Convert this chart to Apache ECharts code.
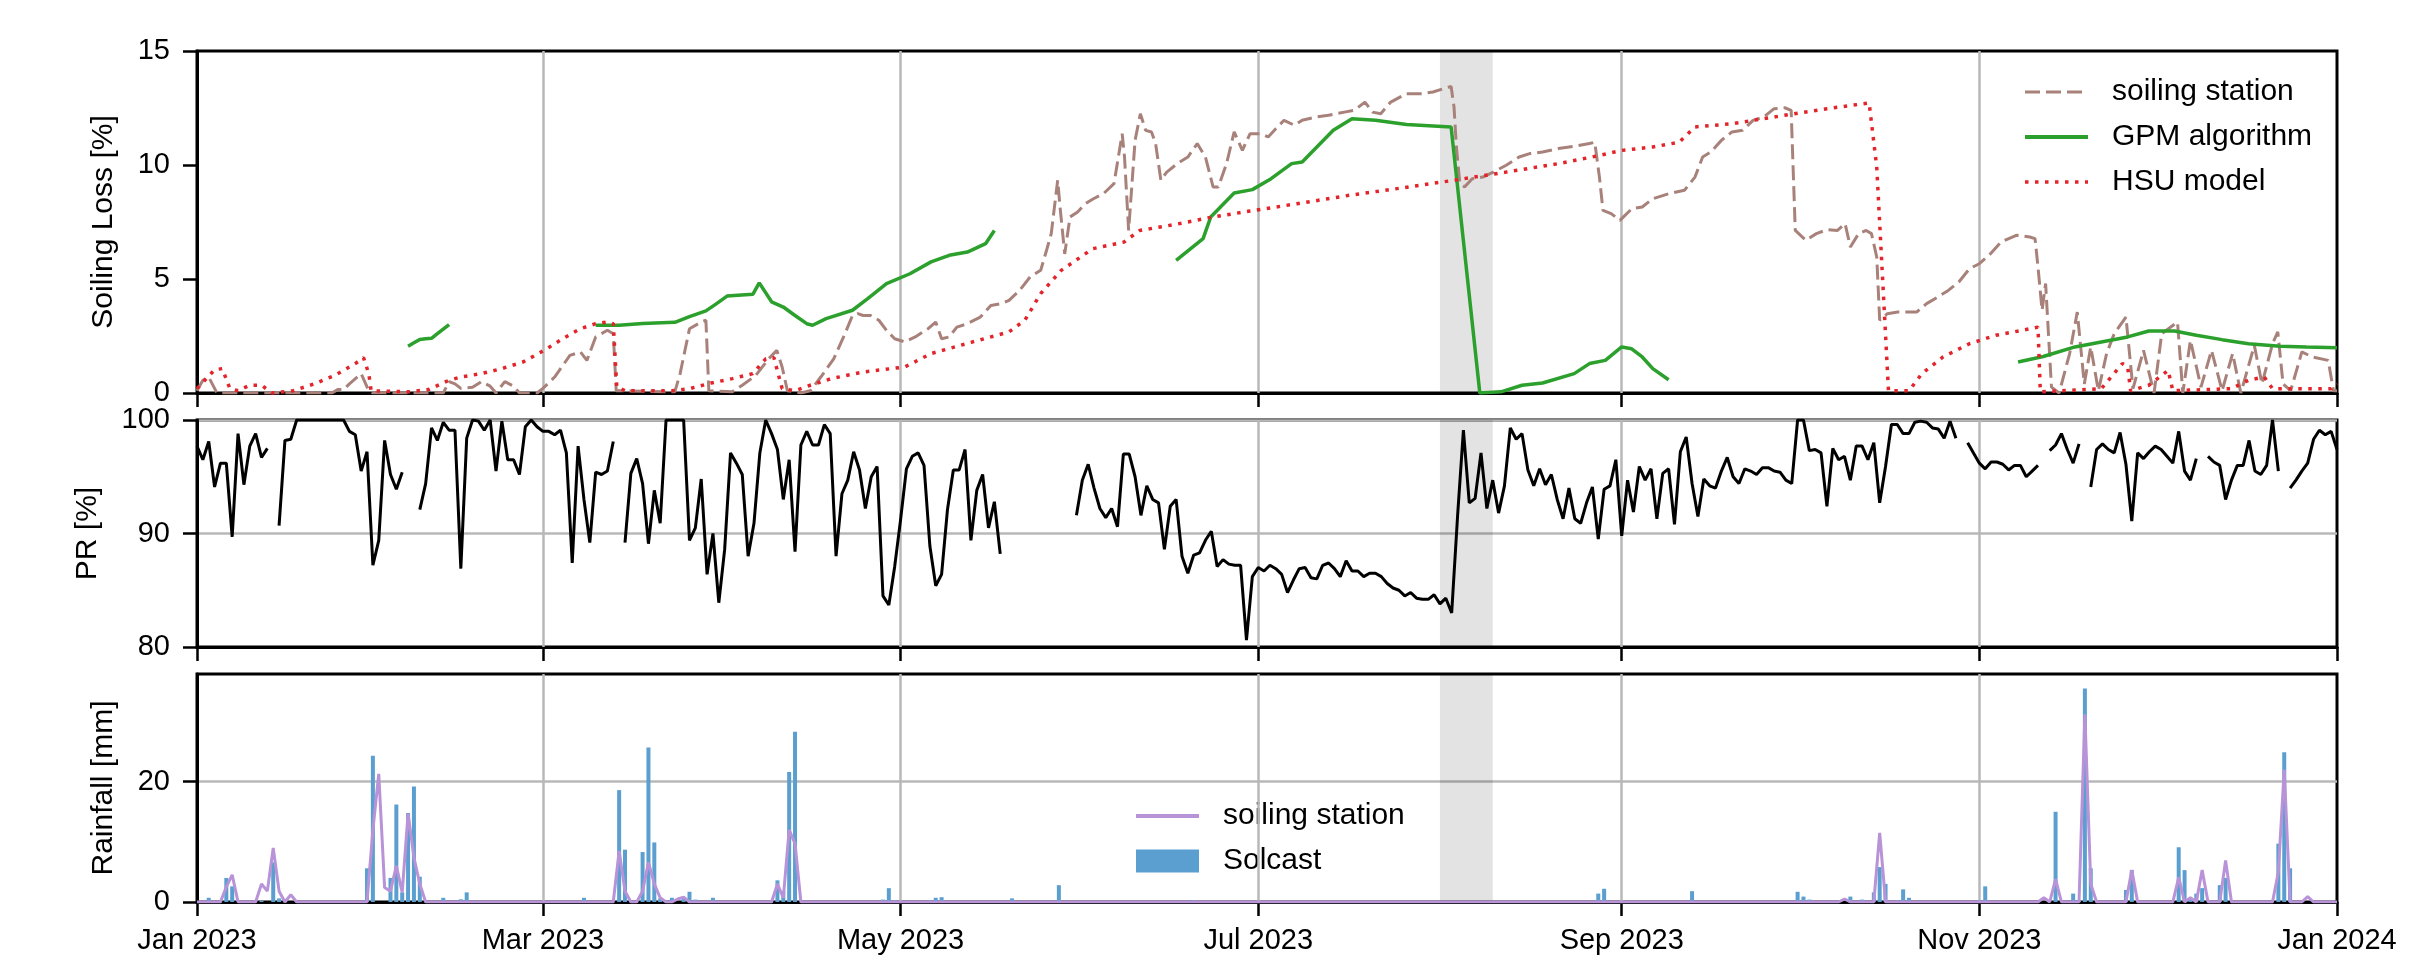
<!DOCTYPE html>
<html>
<head>
<meta charset="utf-8">
<script src="https://cdn.jsdelivr.net/npm/echarts@6/dist/echarts.min.js"></script>
<style>
html,body{margin:0;padding:0;background:#fff;}
#chart{width:2427px;height:956px;}
</style>
</head>
<body>
<div id="chart"></div>
<script>
// ---------- tick labels / dates ----------
const tickDates  = ['2023-01-01','2023-03-01','2023-05-01','2023-07-01','2023-09-01','2023-11-01','2024-01-01'];
const tickLabels = ['Jan 2023','Mar 2023','May 2023','Jul 2023','Sep 2023','Nov 2023','Jan 2024'];
const bandDates  = ['2023-08-01','2023-08-10'];
const lossTicks  = [0, 5, 10, 15];
const prTicks    = [80, 90, 100];
const rainTicks  = [0, 20];

// ---------- panel 1: soiling loss [%]  (x = day of 2023, 0 = 1 Jan) ----------
const stationLoss = [
 [0,0.1],[1,0.56],[2,0.7],[3.4,0],[14,0],[23,0],[24,0.15],[25,0.15],[26,0.4],[28,0.85],
 [29.3,0.1],[30,0],[42,0],[43,0.5],[44,0.4],[45,0.2],[47,0.25],[48.5,0.5],[50,0.3],[51,0],
 [52.5,0.5],[54,0.3],[55,0],[58,0],[59,0.2],[61,0.7],[63.6,1.65],[65.4,1.8],[66.5,1.43],[68,2.46],
 [70,2.75],[71,2.6],[71.5,0.1],[81.5,0.05],[82.4,0.85],[84,2.82],[86,3.11],[86.8,3.19],[87.3,0.1],[91.3,0.05],
 [93,0.34],[95.3,0.77],[97.5,1.5],[98.9,1.87],[99.8,1.14],[100.7,0.1],[103,0],[104.6,0.1],[106.4,0.7],[108.6,1.5],
 [110.4,2.53],[111.8,3.4],[112.7,3.48],[113.6,3.4],[114.9,3.4],[116.3,3.19],[117.6,2.75],[119,2.38],[120.7,2.24],[122.5,2.46],
 [124.7,2.82],[126,3.11],[127,2.38],[128.3,2.46],[129.6,2.89],[131.4,3.04],[133.6,3.33],[135.4,3.84],[137.2,3.92],[138.5,4.06],
 [140.3,4.5],[142.1,5.09],[143.9,5.38],[144.9,6.26],[145.7,6.99],[146.8,9.33],[147.2,8.16],[148,6.1],[148.9,7.72],[150.2,7.94],
 [151.5,8.3],[152.9,8.52],[154.6,8.74],[156.4,9.18],[157.8,11.37],[158.2,10.35],[158.9,7.13],[160,11.08],[160.9,12.25],[161.8,11.52],
 [162.8,11.45],[163.5,10.94],[164.4,9.33],[165.4,9.69],[167.2,10.06],[169,10.35],[170.6,10.94],[172,10.35],[173.3,9.04],[174.2,9.04],
 [175.6,10.06],[176.9,11.45],[178.3,10.64],[179.6,11.37],[181.4,11.37],[182.7,11.23],[184,11.59],[185.4,11.96],[187.2,11.74],[188.5,11.96],
 [190.7,12.1],[193,12.18],[195.7,12.32],[197.4,12.4],[199.2,12.76],[200.5,12.32],[201.9,12.25],[203.6,12.76],[206.3,13.13],[209,13.13],
 [210.8,13.2],[212.6,13.35],[213.9,13.45],[214.4,12.54],[214.8,10.79],[215.4,9.18],[216.2,9.04],[217.5,9.4],[219.3,9.47],[221.1,9.69],
 [223.3,9.99],[225.5,10.35],[227.3,10.5],[229.5,10.57],[232.2,10.72],[234.9,10.82],[237.5,10.94],[238.4,11.0],[239.2,9.47],[239.8,8.01],
 [241.2,7.87],[242.7,7.57],[244.7,8.08],[246.5,8.16],[248.3,8.52],[251,8.74],[253.7,8.89],[255.5,9.47],[256.8,10.35],[258.2,10.57],
 [260,11.08],[261.8,11.45],[263.6,11.52],[265.4,11.96],[267.2,12.1],[269,12.47],[270.8,12.51],[271.9,12.4],[272.6,7.13],[274.4,6.7],
 [276.2,6.99],[278,7.16],[279.8,7.13],[281.1,7.43],[282,6.4],[283.4,6.99],[284.7,7.13],[285.6,6.99],[286.5,5.96],[287,3.19],
 [288.3,3.48],[290.1,3.55],[293.3,3.55],[295,3.92],[296.9,4.21],[298.7,4.5],[300.5,4.87],[302.3,5.45],[304,5.67],[305.9,6.11],
 [307.7,6.62],[310.4,6.92],[312.6,6.84],[313.5,6.77],[314,5.53],[314.7,3.63],[315.3,4.8],[316.3,0.26],[317.6,0],[319.4,1.73],
 [320.7,3.55],[321.9,0.4],[323,2.02],[324.3,0.1],[325.7,1.73],[327,2.6],[329,3.33],[330.2,0.19],[332,1.87],[333.8,0],
 [335.1,2.6],[337.8,3.11],[338.7,0],[340,2.31],[341.8,0.26],[343.6,1.87],[345.4,0.1],[347.2,1.73],[348.6,0],[350.9,2.09],
 [352.2,0.4],[354,2.16],[354.9,2.68],[355.8,0.4],[357.1,0.1],[359,1.8],[360.8,1.58],[363.5,1.43],[364.4,0.1],[365,0.1]
];

const gpmDays = [36,37,38,39,40,41,42,43,44,
  68,72,76,81.5,84,86.8,88.5,90.4,94.8,95.9,98,100,102,104,105,107.3,111.8,114.4,117.6,121.6,125.2,128.3,131.4,134.5,136,137,
  167,171.6,172.9,176.9,180,183.2,186.7,188.5,193.8,197,201,206.3,213.9,
  218.8,222.4,226,229.5,234.9,237.5,240.2,243,244.7,246.5,248.3,251,252,
  310.6,314.9,320.3,324.8,329.3,332.9,337.3,341,345.4,349.9,355.3,359.8,365];
const gpmLoss = [2.05,2.2,2.35,2.38,2.4,2.6,2.8,3.0,null,
  2.97,2.97,3.05,3.1,3.35,3.6,3.9,4.25,4.33,4.83,4.0,3.77,3.4,3.04,2.97,3.26,3.63,4.14,4.8,5.23,5.75,6.04,6.18,6.55,7.13,null,
  5.82,6.77,7.72,8.77,8.92,9.4,10.06,10.13,11.52,12.03,11.96,11.78,11.67,
  0,0.05,0.34,0.44,0.85,1.29,1.43,2.02,1.94,1.58,1.07,0.58,null,
  1.36,1.6,2.02,2.24,2.46,2.72,2.72,2.53,2.34,2.16,2.05,2.02,1.99];

const hsuDays = [0,3,4.3,5.6,7,9,11,12.8,16.4,20,
  23.5,27,28.4,29.3,29.7,36,39.5,43,45,48.5,
  52,55.6,59.2,62.7,65.4,68,69.9,71,71.6,73,
  81,84,87.7,91.3,94.8,97,98.4,99.8,102,104.6,
  108.2,113.6,120.7,125.2,132.3,138.5,141.2,143.9,147.4,152.8,
  158.1,160.8,167,173.3,179.6,187.6,196.5,205.4,214.4,223.3,
  232.2,238.5,243,248.3,252.8,255.5,261.8,270.8,278,285.2,
  286.5,288.5,292,294.2,297.8,302.3,306.8,311.3,314,314.4,
  324.8,328.4,329.3,329.8,332.9,336.2,337,347,349.9,352.6,
  354,364,365];
const hsuLoss = [0.19,1.02,1.07,0.2,0.1,0.34,0.34,0,0.1,0.4,
  0.77,1.29,1.55,0.85,0.1,0.05,0.15,0.56,0.7,0.85,
  1.07,1.36,1.87,2.43,2.82,3.04,3.11,3.04,0.26,0.1,
  0.1,0.19,0.44,0.63,0.85,1.5,1.55,0.19,0.1,0.34,
  0.63,0.92,1.14,1.73,2.24,2.68,3.19,4.36,5.38,6.33,
  6.62,7.13,7.4,7.72,7.98,8.3,8.67,8.99,9.33,9.69,
  10.06,10.38,10.64,10.79,11.0,11.67,11.81,12.18,12.47,12.72,
  9.9,0.1,0.1,0.85,1.58,2.16,2.53,2.75,2.89,0.05,
  0.19,1.29,1.14,0.1,0.34,0.99,0.1,0.19,0.56,0.7,
  0.19,0.19,0.4];

// ---------- panel 2: daily PR [%] from 2023-01-01 (null = no data) ----------
const prDaily = [
 97.7,96.5,98.1,94.1,96.2,96.2,89.7,98.8,94.3,97.7,
 98.8,96.7,97.5,null,90.7,98.2,98.3,100,100,100,
 100,100,100,100,100,100,99.0,98.7,95.5,97.2,
 87.2,89.4,98.2,95.2,93.9,95.4,null,null,92.1,94.4,
 99.3,98.2,99.8,99.1,99.1,86.9,98.4,100,99.9,99.1,
 100,95.5,99.9,96.5,96.5,95.2,99.4,100,99.4,99.0,
 99.0,98.7,99.1,97.1,87.4,97.7,93.0,89.2,95.4,95.2,
 95.5,98.1,null,89.2,95.3,96.6,94.4,89.1,93.8,90.9,
 100,100,100,100,89.4,90.5,94.8,86.4,90.0,83.9,
 88.6,97.1,96.2,95.2,88.0,90.9,97.1,100,98.8,97.4,
 93.0,96.5,88.4,97.8,99.0,97.8,97.8,99.6,98.8,88.0,
 93.5,94.7,97.2,95.6,92.2,95.0,95.9,84.5,83.7,87.1,
 91.2,95.7,96.8,97.1,96.0,88.9,85.4,86.4,92.1,95.6,
 95.6,97.4,89.4,93.8,95.2,90.5,92.8,88.2,null,null,
 null,null,null,null,null,null,null,null,null,null,
 91.6,94.7,96.1,94.0,92.2,91.4,92.2,90.6,97.0,97.0,
 95.0,91.6,94.2,93.0,92.7,88.6,92.4,93.0,88.0,86.5,
 88.1,88.3,89.4,90.2,87.1,87.7,87.3,87.2,87.2,80.6,
 86.2,87.0,86.7,87.2,86.9,86.4,84.8,85.9,86.9,87.0,
 86.1,86.0,87.2,87.4,86.9,86.2,87.6,86.7,86.7,86.2,
 86.5,86.5,86.2,85.6,85.2,85.0,84.5,84.8,84.3,84.2,
 84.2,84.6,83.8,84.3,83.0,91.5,99.1,92.7,93.1,97.1,
 92.2,94.7,91.8,94.2,99.3,98.3,98.8,95.6,94.2,95.7,
 94.3,95.2,93.0,91.3,94.0,91.3,90.9,92.7,94.1,89.5,
 93.9,94.2,96.5,89.8,94.7,91.9,95.9,94.7,95.7,91.3,
 95.3,95.7,90.8,97.2,98.5,94.4,91.5,94.8,94.2,94.0,
 95.5,96.7,95.0,94.4,95.7,95.5,95.2,95.8,95.8,95.5,
 95.4,94.7,94.4,100,100,97.3,97.4,97.1,92.4,97.5,
 96.5,96.8,94.7,97.7,97.7,96.5,98.0,92.7,95.9,99.6,
 99.6,98.8,98.8,99.8,99.9,99.8,99.3,99.2,98.4,99.9,
 98.4,null,98.0,97.1,96.2,95.7,96.3,96.3,96.1,95.6,
 96.0,96.0,95.0,95.5,96.0,null,97.3,97.8,98.8,97.4,
 96.2,97.9,null,94.1,97.4,97.9,97.4,97.1,98.9,96.1,
 91.1,97.1,96.6,97.2,97.7,97.4,96.8,96.2,99.0,95.5,
 94.7,96.6,null,96.8,96.3,96.0,93.0,94.7,96.0,96.0,
 98.2,95.5,95.2,96.0,100,95.5,null,94.0,94.7,95.5,
 96.2,98.3,99.1,98.7,99.0,97.4
];

// ---------- panel 3: rainfall [mm] ----------
const solcastDays = [2,5,6,11,13,14,29,30,33,34,35,36,37,38,42,45,46,66,72,73,76,77,78,79,81,83,84,85,88,
  99,100,101,102,117,118,119,125,126,127,139,146,147,148,170,239,240,255,273,274,275,282,284,286,287,288,
  290,291,292,304,305,317,320,321,322,323,329,330,338,339,340,341,342,345,346,355,356,357];
const solcastMm = [0.7,4.0,2.6,0.2,6.6,0.6,5.6,24.3,4.0,16.2,1.6,14.8,19.2,4.2,0.7,0.45,1.6,0.7,18.6,8.7,8.3,25.7,9.9,0.6,0.7,0.6,1.7,0.4,0.7,
  3.6,1.8,21.6,28.3,0.4,2.3,0.3,0.3,0.7,0.8,0.6,0.2,2.8,0.1,0.3,1.4,2.2,1.8,1.7,0.9,0.4,0.9,0.4,1.6,5.8,3.0,
  0.3,2.1,0.7,0.3,2.6,15.0,1.4,0.3,35.5,5.6,2.0,5.3,9.1,5.3,0.6,1.4,2.3,2.8,4.0,9.7,24.9,5.6];
// soiling-station gauge: days with rain (all other days read as 0 mm)
const stationRainDays = [5,6,11,12,13,14,16,30,31,32,33,34,35,36,37,38,72,73,76,77,78,79,82,83,
  99,100,101,102,281,287,315,317,322,323,330,338,340,342,346,355,356,360];
const stationRainMm = [2.5,4.5,3.0,1.8,9.0,1.8,1.2,12.0,21.3,2.4,1.8,6.0,1.6,14.7,7.4,3.0,8.5,1.8,1.8,6.6,3.0,0.7,0.5,0.8,
  3.0,0.7,12.0,9.7,0.5,11.5,0.7,3.8,31.2,3.0,5.3,4.1,0.7,5.3,6.9,5.0,22.0,0.9];

// ---------- helpers ----------
const FONT = "'Liberation Sans', Arial, Helvetica, sans-serif";
const DAY_MS = 86400000;
const T0 = Date.parse(tickDates[0]);
const dayOf = s => Math.round((Date.parse(s) - T0) / DAY_MS);
const tickDays = tickDates.map(dayOf);
const bandDays = bandDates.map(dayOf);
const X_MAX = tickDays[tickDays.length - 1];
const pairs = (days, vals) => days.map((d, i) => [d, vals[i]]);

const BROWN = '#a8827a', GREEN = '#2ca02c', RED = '#e3242b', PURPLE = '#b893d8', BLUE = '#5b9fd0';
const GRIDC = '#b8b8b8';
const NO_SYMBOL = {color: 'rgba(0,0,0,0)', borderColor: 'rgba(0,0,0,0)', borderWidth: 0, opacity: 0};

const grids = [
  {left: 197, top: 51, width: 2140, height: 342},
  {left: 197, top: 420, width: 2140, height: 227},
  {left: 197, top: 674, width: 2140, height: 228}
].map(g => Object.assign(g, {show: true, borderColor: '#000', borderWidth: 3, backgroundColor: 'transparent', containLabel: false}));

function labelFor(v) {
  const i = tickDays.findIndex(t => Math.abs(t - v) < 0.5);
  return i >= 0 ? tickLabels[i] : '';
}

function xAxisFor(i, showLabels) {
  return {
    type: 'value', gridIndex: i, min: 0, max: X_MAX,
    axisLine: {show: true, onZero: false, lineStyle: {color: '#000', width: 3}},
    axisTick: {show: true, customValues: tickDays, length: 14, lineStyle: {color: '#000', width: 2.5}},
    axisLabel: {show: showLabels, customValues: tickDays, formatter: labelFor, fontSize: 29, color: '#000', fontFamily: FONT, margin: 24, hideOverlap: false},
    splitLine: {show: false}
  };
}

function yAxisFor(i, o) {
  return {
    type: 'value', gridIndex: i, min: o.min, max: o.max, interval: o.interval,
    name: o.name, nameLocation: 'middle', nameGap: o.nameGap,
    nameTextStyle: {fontSize: 30, color: '#000', fontFamily: FONT},
    axisLine: {show: true, onZero: false, lineStyle: {color: '#000', width: 3}},
    axisTick: {show: true, customValues: o.ticks, length: 14, lineStyle: {color: '#000', width: 2.5}},
    axisLabel: {customValues: o.ticks, fontSize: 29, color: '#000', fontFamily: FONT, margin: 27},
    splitLine: {show: o.split, lineStyle: {color: GRIDC, width: 2.5}}
  };
}

function guideSeries(i) {
  return {
    type: 'line', xAxisIndex: i, yAxisIndex: i, data: [], z: 1, silent: true, animation: false,
    markLine: {
      silent: true, animation: false, symbol: ['none', 'none'], label: {show: false},
      lineStyle: {color: GRIDC, width: 2.5, type: 'solid'}, emphasis: {disabled: true},
      data: tickDays.slice(1, -1).map(t => ({xAxis: t}))
    },
    markArea: {
      silent: true, animation: false, itemStyle: {color: 'rgba(0,0,0,0.11)'}, emphasis: {disabled: true},
      data: [[{xAxis: bandDays[0]}, {xAxis: bandDays[1]}]]
    }
  };
}

const lineBase = {type: 'line', showSymbol: false, symbol: 'none', animation: false, connectNulls: false, silent: true};

const stationRainSeries = prDaily.map((_, d) => {
  const k = stationRainDays.indexOf(d);
  return [d, k >= 0 ? stationRainMm[k] : 0];
});

const chart = echarts.init(document.getElementById('chart'), null, {renderer: 'canvas'});
chart.setOption({
  animation: false,
  backgroundColor: '#fff',
  textStyle: {fontFamily: FONT},
  grid: grids,
  xAxis: [xAxisFor(0, false), xAxisFor(1, false), xAxisFor(2, true)],
  yAxis: [
    yAxisFor(0, {min: 0, max: 15, interval: 5, name: 'Soiling Loss [%]', nameGap: 78, ticks: lossTicks, split: false}),
    yAxisFor(1, {min: 80, max: 100, interval: 10, name: 'PR [%]', nameGap: 94, ticks: prTicks, split: true}),
    yAxisFor(2, {min: 0, max: 37.9, interval: 20, name: 'Rainfall [mm]', nameGap: 78, ticks: rainTicks, split: true})
  ],
  legend: [
    {
      data: [
        {name: 'soiling station', lineStyle: {width: 3}},
        {name: 'GPM algorithm', lineStyle: {width: 4}},
        {name: 'HSU model', lineStyle: {width: 3.5}}
      ],
      orient: 'vertical', left: 2018, top: 72, itemWidth: 63, itemHeight: 20, itemGap: 15,
      itemStyle: NO_SYMBOL,
      selectedMode: false, textStyle: {fontSize: 30, lineHeight: 30, color: '#000', fontFamily: FONT, padding: [0, 0, 0, 19]}
    },
    {
      data: [
        {name: 'soiling station', lineStyle: {color: PURPLE, type: 'solid', width: 4}, itemStyle: NO_SYMBOL},
        {name: 'Solcast', icon: 'rect', itemStyle: {color: BLUE}}
      ],
      orient: 'vertical', left: 1129, top: 796, itemWidth: 63, itemHeight: 23, itemGap: 15,
      selectedMode: false, textStyle: {fontSize: 30, lineHeight: 30, color: '#000', fontFamily: FONT, padding: [0, 0, 0, 19]}
    }
  ],
  series: [
    guideSeries(0), guideSeries(1), guideSeries(2),
    Object.assign({}, lineBase, {name: 'soiling station', xAxisIndex: 0, yAxisIndex: 0, z: 10,
      data: stationLoss,
      itemStyle: {color: BROWN}, lineStyle: {color: BROWN, width: 3, type: [15, 6]}}),
    Object.assign({}, lineBase, {name: 'GPM algorithm', xAxisIndex: 0, yAxisIndex: 0, z: 11,
      data: pairs(gpmDays, gpmLoss),
      itemStyle: {color: GREEN}, lineStyle: {color: GREEN, width: 3.5}}),
    Object.assign({}, lineBase, {name: 'HSU model', xAxisIndex: 0, yAxisIndex: 0, z: 12,
      data: pairs(hsuDays, hsuLoss),
      itemStyle: {color: RED}, lineStyle: {color: RED, width: 3.5, type: [3.5, 6.5]}}),
    Object.assign({}, lineBase, {name: 'PR', xAxisIndex: 1, yAxisIndex: 1, z: 10,
      data: prDaily.map((v, d) => [d, v]),
      itemStyle: {color: '#000'}, lineStyle: {color: '#000', width: 3}}),
    {type: 'bar', name: 'Solcast', xAxisIndex: 2, yAxisIndex: 2, z: 10, barWidth: 4, silent: true, animation: false,
      data: pairs(solcastDays, solcastMm), itemStyle: {color: BLUE}},
    Object.assign({}, lineBase, {name: 'soiling station', xAxisIndex: 2, yAxisIndex: 2, z: 11,
      data: stationRainSeries,
      itemStyle: {color: PURPLE}, lineStyle: {color: PURPLE, width: 3}})
  ]
});
</script>
</body>
</html>
